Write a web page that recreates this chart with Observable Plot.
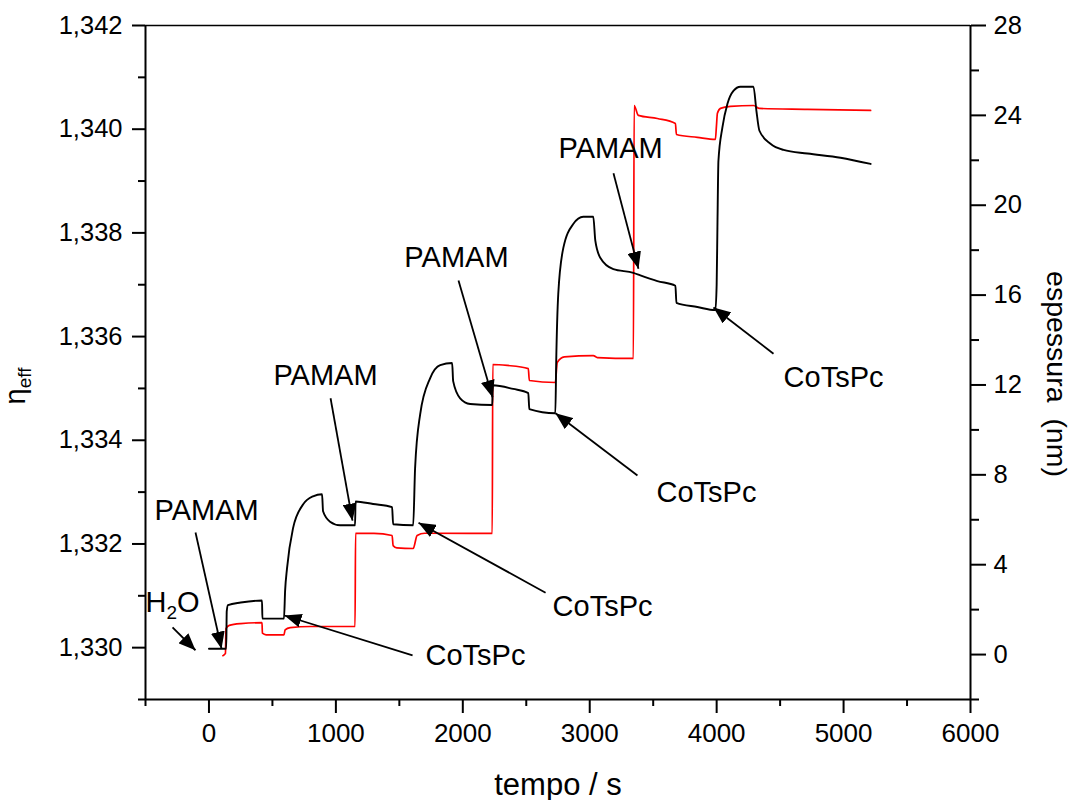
<!DOCTYPE html>
<html><head><meta charset="utf-8">
<script src="https://cdn.jsdelivr.net/npm/d3@7"></script>
<script src="https://cdn.jsdelivr.net/npm/@observablehq/plot@0.6"></script>
<style>body{margin:0;background:#fff;}</style>
</head><body><div id="chart"></div>
<script>
// Black curve: effective refractive index (left axis)
const blackT = [0, 136, 140, 150, 250, 418, 421, 591, 600, 615, 662, 741, 820, 891, 899, 954, 1033, 1151, 1155, 1293, 1443, 1451, 1609, 1624, 1664, 1743, 1822, 1916, 1924, 1979, 2058, 2232, 2236, 2397, 2516, 2524, 2729, 2736, 2752, 2792, 2870, 2949, 3028, 3044, 3083, 3186, 3344, 3399, 3533, 3675, 3683, 3848, 3990, 4000, 4006, 4014, 4045, 4085, 4132, 4187, 4290, 4313, 4337, 4424, 4527, 4716, 4976, 5213];
const blackEta = [1.32998, 1.32998, 1.33070, 1.33082, 1.33087, 1.33091, 1.33056, 1.33056, 1.33110, 1.33153, 1.33230, 1.33276, 1.33292, 1.33296, 1.33263, 1.33243, 1.33236, 1.33236, 1.33282, 1.33277, 1.33271, 1.33238, 1.33236, 1.33346, 1.33450, 1.33520, 1.33545, 1.33549, 1.33514, 1.33481, 1.33470, 1.33468, 1.33506, 1.33499, 1.33491, 1.33460, 1.33452, 1.33553, 1.33682, 1.33771, 1.33817, 1.33831, 1.33831, 1.33785, 1.33752, 1.33730, 1.33723, 1.33718, 1.33707, 1.33698, 1.33665, 1.33657, 1.33651, 1.33700, 1.33810, 1.33939, 1.34003, 1.34049, 1.34074, 1.34082, 1.34082, 1.34036, 1.33997, 1.33972, 1.33960, 1.33953, 1.33945, 1.33933];

// Red curve: thickness in nm (right axis)
const redT = [110, 130, 134, 160, 250, 418, 421, 450, 591, 600, 640, 800, 1151, 1155, 1300, 1443, 1451, 1480, 1609, 1640, 1700, 2232, 2236, 2350, 2516, 2524, 2729, 2744, 2800, 3028, 3060, 3344, 3350, 3383, 3533, 3675, 3683, 3848, 3990, 3998, 4006, 4030, 4109, 4290, 4337, 4716, 5213];
const redThk = [-0.05, 0.05, 1.15, 1.30, 1.38, 1.42, 0.95, 0.88, 0.88, 1.10, 1.20, 1.25, 1.25, 5.39, 5.39, 5.30, 4.85, 4.75, 4.72, 5.30, 5.40, 5.39, 12.91, 12.87, 12.73, 12.20, 12.11, 13.00, 13.25, 13.31, 13.22, 13.18, 24.44, 24.00, 23.86, 23.64, 23.15, 23.02, 22.93, 23.50, 24.09, 24.31, 24.40, 24.44, 24.31, 24.27, 24.22];

// Axes
const xDomain = [-500, 6000];
const etaDomain = [1.329, 1.342];
const thkDomain = [-2, 28];
const xMajorTicks = [0, 1000, 2000, 3000, 4000, 5000, 6000];
const xMinorTicks = [-500, 500, 1500, 2500, 3500, 4500, 5500];
const etaMajorTicks = [1.330, 1.332, 1.334, 1.336, 1.338, 1.340, 1.342];
const etaMinorTicks = [1.329, 1.331, 1.333, 1.335, 1.337, 1.339, 1.341];
const thkMajorTicks = [0, 4, 8, 12, 16, 20, 24, 28];
const thkMinorTicks = [-2, 2, 6, 10, 14, 18, 22, 26];
const xLabel = "tempo / s";
const yLabelLeft = ["η", "eff"];
const yLabelRight = "espessura\u00a0 (nm)";

// Annotations (time, eta)
const labelText = ["H2O", "PAMAM", "CoTsPc", "PAMAM", "CoTsPc", "PAMAM", "CoTsPc", "PAMAM", "CoTsPc"];
const labelT = [-287, -19, 2100, 918, 3101, 1950, 3920, 3164, 4921];
const labelEta = [1.33068, 1.33247, 1.32966, 1.33506, 1.33062, 1.33735, 1.33280, 1.33944, 1.33502];
const arrowT1 = [-287, -106, 1604, 958, 2652, 1966, 3376, 3187, 4448];
const arrowEta1 = [1.33039, 1.33222, 1.32985, 1.33481, 1.33106, 1.33708, 1.33332, 1.33915, 1.33567];
const arrowT2 = [-106, 99, 595, 1131, 1651, 2234, 2730, 3384, 3975];
const arrowEta2 = [1.32995, 1.32998, 1.33062, 1.33245, 1.33241, 1.33483, 1.33452, 1.33731, 1.33656];

const thkToEta = d3.scaleLinear(thkDomain, etaDomain);
const black = blackT.map((t, i) => ({t, v: blackEta[i]}));
const red = redT.map((t, i) => ({t, v: thkToEta(redThk[i])}));
const labels = labelText.map((s, i) => ({s, t: labelT[i], v: labelEta[i]}));
const arrows = arrowT1.map((t, i) => ({t1: t, v1: arrowEta1[i], t2: arrowT2[i], v2: arrowEta2[i]}));

const FONT = '"Liberation Sans", Arial, Helvetica, sans-serif';

const plot = Plot.plot({
  width: 1072, height: 800,
  marginLeft: 145, marginRight: 102, marginTop: 25, marginBottom: 101,
  style: {fontFamily: FONT, background: "white", color: "black", fontSize: "25px"},
  x: {domain: xDomain},
  y: {domain: etaDomain},
  marks: [
    Plot.line(red, {x: "t", y: "v", stroke: "#ff0000", strokeWidth: 1.7, curve: "monotone-x"}),
    Plot.line(black, {x: "t", y: "v", stroke: "black", strokeWidth: 1.9, curve: "monotone-x"}),
    Plot.link(arrows, {x1: "t1", y1: "v1", x2: "t2", y2: "v2", stroke: "black", strokeWidth: 1.8}),
    Plot.text(labels, {x: "t", y: "v", text: "s", fontSize: 29, textAnchor: "middle", lineAnchor: "bottom", fill: "black"}),
    Plot.ruleX([xDomain[0]], {strokeWidth: 2}),
    Plot.ruleX([xDomain[1]], {strokeWidth: 2}),
    Plot.ruleY([etaDomain[0]], {strokeWidth: 2}),
    Plot.ruleY([etaDomain[1]], {strokeWidth: 1.5}),
    Plot.axisX(xMajorTicks, {anchor: "bottom", tickSize: 14, tickPadding: 10, fontSize: 26, strokeWidth: 2, tickFormat: d => String(d), label: null}),
    Plot.axisX(xMinorTicks, {anchor: "bottom", tickSize: 7, strokeWidth: 2, tickFormat: () => "", label: null}),
    Plot.axisY(etaMajorTicks, {anchor: "left", tickSize: 13, tickPadding: 10, fontSize: 25.5, strokeWidth: 2, tickFormat: d => d.toFixed(3).replace(".", ","), label: null}),
    Plot.axisY(etaMinorTicks, {anchor: "left", tickSize: 7, strokeWidth: 2, tickFormat: () => "", label: null}),
    Plot.axisY(thkMajorTicks.map(thkToEta), {anchor: "right", tickSize: 15, tickPadding: 8, fontSize: 25.5, strokeWidth: 2, tickFormat: d => String(Math.round(thkToEta.invert(d))), label: null}),
    Plot.axisY(thkMinorTicks.map(thkToEta), {anchor: "right", tickSize: 8, strokeWidth: 2, tickFormat: () => "", label: null}),
    Plot.text([xLabel], {frameAnchor: "bottom", dy: 95, fontSize: 31, lineAnchor: "bottom", fill: "black"})
  ]
});

const svg = d3.select(plot);
const defs = svg.append("defs");
defs.append("marker").attr("id", "ah")
  .attr("viewBox", "0 0 17 14").attr("refX", 17).attr("refY", 7)
  .attr("markerWidth", 17).attr("markerHeight", 14)
  .attr("markerUnits", "userSpaceOnUse").attr("orient", "auto")
  .append("path").attr("d", "M0,0L17,7L0,14Z").attr("fill", "black").attr("stroke", "none");
svg.selectAll('g[aria-label="link"] path').attr("marker-end", "url(#ah)");

svg.selectAll("text").filter(function () { return this.textContent === "H2O"; }).each(function () {
  const t = d3.select(this);
  t.text("");
  t.append("tspan").text("H");
  t.append("tspan").attr("font-size", 19).attr("dy", 7).text("2");
  t.append("tspan").attr("dy", -7).text("O");
});

const yl = svg.append("text").attr("transform", "translate(25,386) rotate(-90)")
  .attr("text-anchor", "middle").attr("font-size", 29).attr("fill", "black").attr("font-family", FONT);
yl.append("tspan").text(yLabelLeft[0]);
yl.append("tspan").attr("font-size", 19).attr("dy", 6).text(yLabelLeft[1]);

svg.append("text").attr("transform", "translate(1047,374) rotate(90)")
  .attr("text-anchor", "middle").attr("font-size", 28.5).attr("fill", "black").attr("font-family", FONT)
  .text(yLabelRight);

document.getElementById("chart").append(plot);
</script>
</body></html>
